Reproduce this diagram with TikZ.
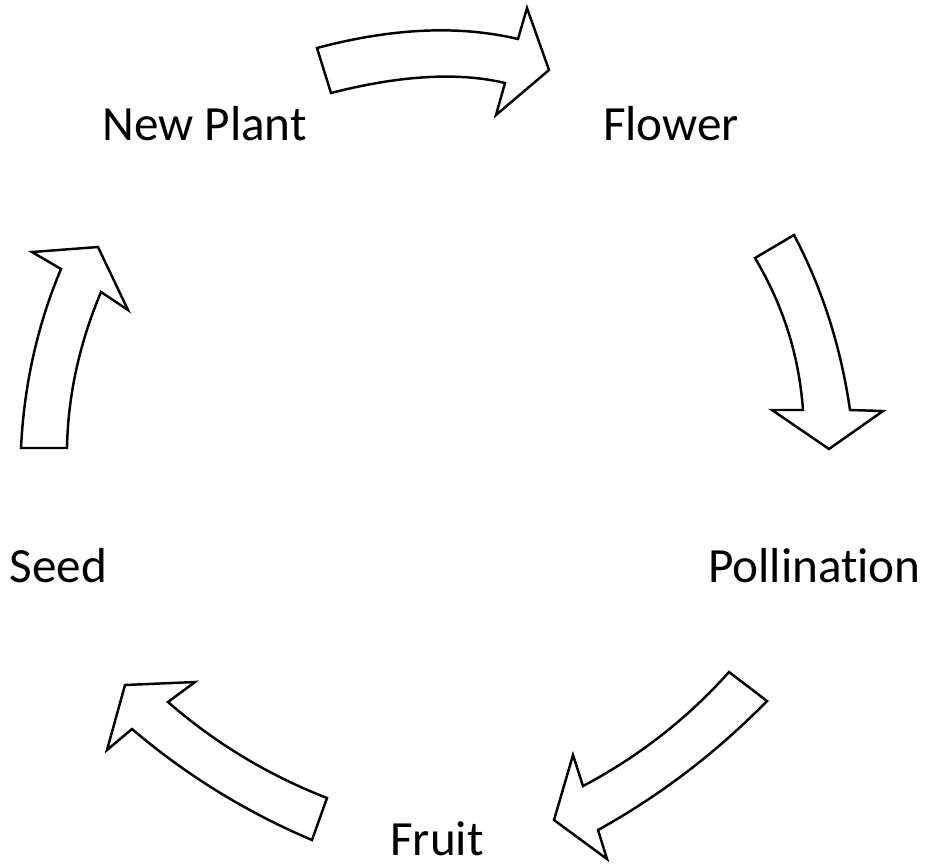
\documentclass[tikz,border=0pt]{standalone}
\usepackage{fontspec}
\setmainfont{Carlito}[Ligatures=NoCommon]
\usetikzlibrary{positioning}
\tikzset{
  % pixel-like units, y pointing down
  every picture/.append style = {x=0.02cm, y=-0.02cm},
  stagelbl/.style   = {font=\fontsize{28}{34}\selectfont, anchor=base, inner sep=0pt},
  blockarrow/.style = {draw=black, fill=white, line width=1.4pt, line join=miter},
}

\begin{document}
\begin{tikzpicture}
  \useasboundingbox (0,0) rectangle (927,867);
  % stage labels
  \node[stagelbl] (newplant)    at (204.5,140.5) {New Plant};
  \node[stagelbl] (flower)      at (671,140.5)   {Flower};
  \node[stagelbl] (pollination) at (814.5,582.5) {Pollination};
  \node[stagelbl] (fruit)       at (437,855.5)   {Fruit};
  \node[stagelbl] (seed)        at (58.5,582)    {Seed};
  % new plant -> flower
  \draw[blockarrow] (317,48) .. controls (392,28) and (459,25) .. (518,39) -- (527,8)
    -- (549,70) -- (496,115) -- (505,83) .. controls (459,72) and (401,75) .. (331,93) -- cycle;
  % flower -> pollination
  \draw[blockarrow] (794,235) .. controls (823,290) and (841,348) .. (850,410) -- (883,411)
    -- (829,449) -- (772,410) -- (803,410) .. controls (799,355) and (783,305) .. (755,258) -- cycle;
  % pollination -> fruit
  \draw[blockarrow] (729,672) .. controls (687,719) and (638,757) .. (583,786) -- (573,755)
    -- (554,820) -- (607,859) -- (598,830) .. controls (661,795) and (717,752) .. (767,701) -- cycle;
  % fruit -> seed
  \draw[blockarrow] (327,798) .. controls (268,775) and (215,743) .. (168,702) -- (195,682)
    -- (125,685) -- (107,750) -- (132,729) .. controls (186,775) and (246,812) .. (312,840) -- cycle;
  % seed -> new plant
  \draw[blockarrow] (67,448) .. controls (68,394) and (80,342) .. (101,292) -- (128,310)
    -- (98,247) -- (32,252) -- (61,269) .. controls (37,326) and (24,386) .. (21,448) -- cycle;
\end{tikzpicture}
\end{document}
